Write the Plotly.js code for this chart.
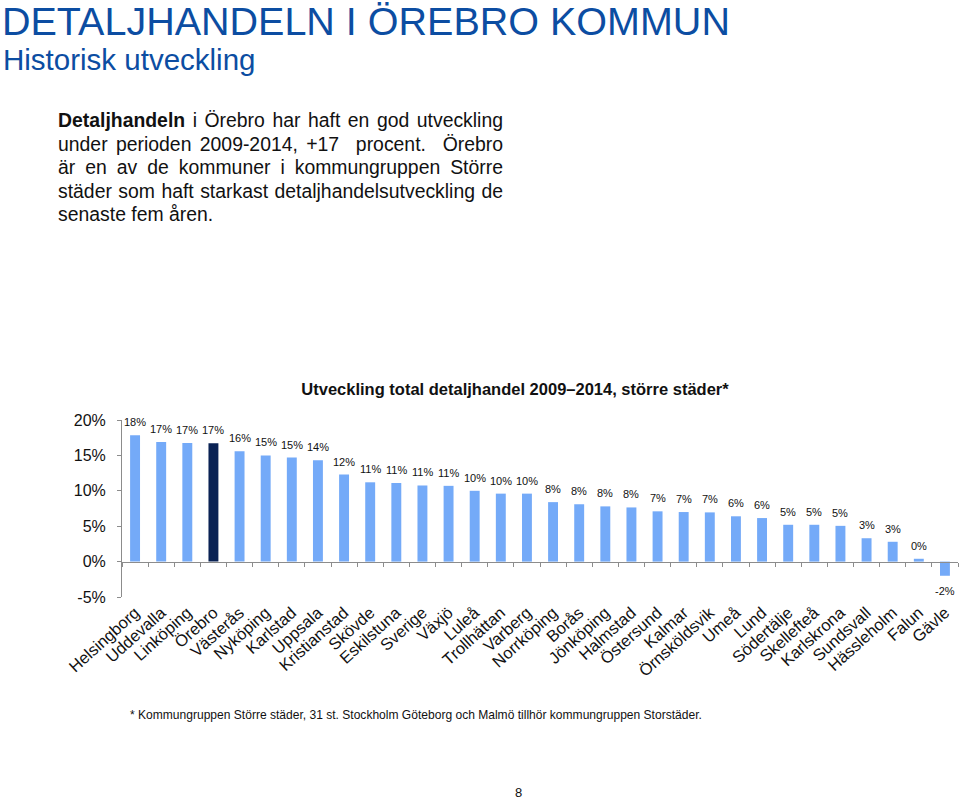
<!DOCTYPE html>
<html>
<head>
<meta charset="utf-8">
<script src="https://cdn.plot.ly/plotly-3.0.1.min.js"></script>
<style>
  html, body { margin:0; padding:0; background:#fff; }
  body { width:960px; height:800px; position:relative; overflow:hidden; font-family:"Liberation Sans", Arial, sans-serif; }
  #chart { position:absolute; left:0; top:0; width:960px; height:800px; }
  .ov { position:absolute; z-index:5; pointer-events:none; white-space:nowrap; }
  #h1 { left:2px; top:0px; font-size:39.5px; line-height:42px; color:#0c4da2; }
  #h2 { left:3px; top:43px; font-size:29.5px; line-height:34px; color:#0c4da2; }
  #para { left:58px; top:109px; width:445px; font-size:19.4px; line-height:23.5px; color:#111; white-space:normal; }
  #para .ln { display:block; text-align:justify; text-align-last:justify; white-space:nowrap; }
  #para .last { text-align-last:left; }
  #foot { left:130px; top:708px; font-size:12.05px; line-height:14px; color:#111; }
  #page { left:515px; top:785px; font-size:13px; line-height:16px; color:#111; }
</style>
</head>
<body>
<div id="chart"></div>
<div class="ov" id="h1">DETALJHANDELN I ÖREBRO KOMMUN</div>
<div class="ov" id="h2">Historisk utveckling</div>
<div class="ov" id="para"><span class="ln"><b>Detaljhandeln</b> i Örebro har haft en god utveckling</span><span class="ln">under perioden 2009-2014, +17&nbsp; procent. &nbsp;Örebro</span><span class="ln">är en av de kommuner i kommungruppen Större</span><span class="ln">städer som haft starkast detaljhandelsutveckling de</span><span class="ln last">senaste fem åren.</span></div>
<div class="ov" id="foot">* Kommungruppen Större städer, 31 st. Stockholm Göteborg och Malmö tillhör kommungruppen Storstäder.</div>
<div class="ov" id="page">8</div>
<script>
const cities = ["Helsingborg","Uddevalla","Linköping","Örebro","Västerås","Nyköping","Karlstad","Uppsala","Kristianstad","Skövde","Eskilstuna","Sverige","Växjö","Luleå","Trollhättan","Varberg","Norrköping","Borås","Jönköping","Halmstad","Östersund","Kalmar","Örnsköldsvik","Umeå","Lund","Södertälje","Skellefteå","Karlskrona","Sundsvall","Hässleholm","Falun","Gävle"];
const growth = [17.85,16.9,16.75,16.7,15.6,15.0,14.7,14.3,12.3,11.2,11.1,10.75,10.7,10.0,9.6,9.6,8.4,8.1,7.8,7.65,7.1,7.0,6.95,6.4,6.15,5.2,5.2,5.05,3.3,2.8,0.4,-2.0];
const highlight = "Örebro";
const yTickVals = [-5,0,5,10,15,20];
const yTickText = ["-5%","0%","5%","10%","15%","20%"];
const chartTitle = "Utveckling total detaljhandel 2009–2014, större städer*";

const lightBlue = "#74aaf8";
const darkBlue = "#0a2254";
const font = '"Liberation Sans", Arial, sans-serif';

const colors = cities.map(c => c === highlight ? darkBlue : lightBlue);

const bars = {
  type: "bar", x: cities, y: growth, xaxis: "x", yaxis: "y",
  marker: { color: colors, line: { width: 0 } },
  hoverinfo: "x+y"
};
const ghost = {
  type: "scatter", mode: "markers", x: cities, y: growth, xaxis: "x2", yaxis: "y",
  marker: { opacity: 0 }, hoverinfo: "skip", showlegend: false
};

const annotations = cities.map((c, i) => ({
  x: c, y: growth[i], xref: "x", yref: "y",
  text: Math.round(growth[i]) + "%",
  showarrow: false, yanchor: "middle",
  yshift: growth[i] >= 0 ? 13 : -15,
  font: { family: font, size: 11, color: "#111111" }
}));

const layout = {
  width: 960, height: 800,
  margin: { l: 122, r: 2, t: 420, b: 203, pad: 0 },
  paper_bgcolor: "#fff", plot_bgcolor: "#fff",
  showlegend: false,
  bargap: 0.62,
  font: { family: font, color: "#111" },
  title: {
    text: "<b>" + chartTitle + "</b>",
    xref: "container", yref: "container",
    x: 515 / 960, y: 1 - 389 / 800, xanchor: "center", yanchor: "middle",
    font: { family: font, size: 16.5, color: "#111" }
  },
  xaxis: {
    type: "category", range: [-0.5, cities.length - 0.5],
    showline: false, ticks: "", showgrid: false, zeroline: false,
    tickangle: -42, tickfont: { family: font, size: 16.5, color: "#111" },
    ticklabelstandoff: 2, automargin: false
  },
  xaxis2: {
    type: "category", overlaying: "x", matches: "x", anchor: "free", position: 0.2,
    side: "bottom", showline: true, linecolor: "#8c8c8c", linewidth: 1,
    ticks: "outside", ticklen: 4, tickcolor: "#8c8c8c", tickson: "boundaries",
    showticklabels: false, showgrid: false, zeroline: false
  },
  yaxis: {
    range: [-5, 20], tickmode: "array", tickvals: yTickVals, ticktext: yTickText,
    showline: true, linecolor: "#8c8c8c", linewidth: 1,
    ticks: "outside", ticklen: 4, tickcolor: "#8c8c8c",
    showgrid: false, zeroline: false,
    tickfont: { family: font, size: 16, color: "#111" },
    ticklabelstandoff: 8, automargin: false
  },
  annotations: annotations
};

Plotly.newPlot("chart", [bars, ghost], layout, { displayModeBar: false, staticPlot: true });
</script>
</body>
</html>
